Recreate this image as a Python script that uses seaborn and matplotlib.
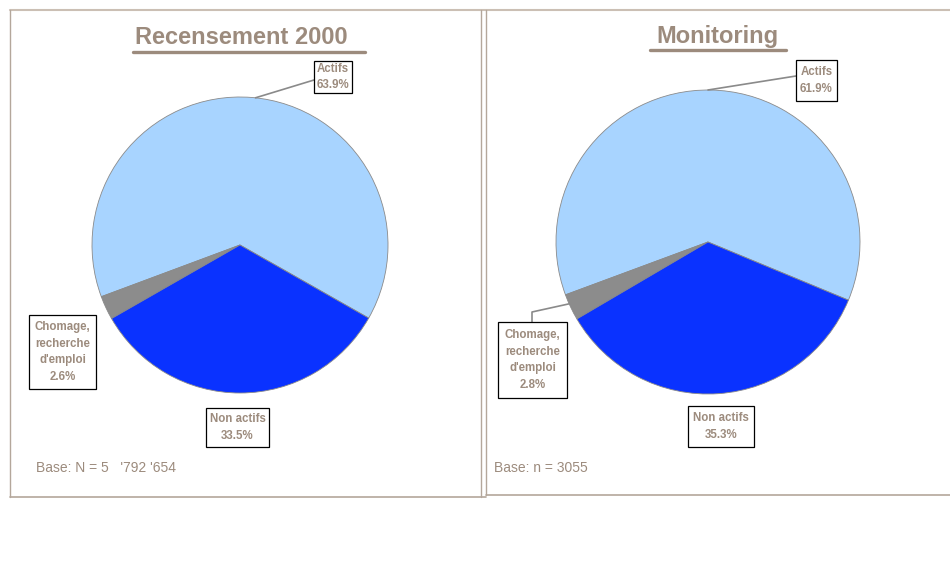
import numpy as np
import matplotlib
matplotlib.use('Agg')
import matplotlib.pyplot as plt
import seaborn as sns
from matplotlib.lines import Line2D
from matplotlib.patches import Rectangle

# data
categories = ['Actifs', 'Chomage,\nrecherche\nd\'emploi', 'Non actifs']
recensement = [63.9, 2.6, 33.5]
monitoring = [61.9, 2.8, 35.3]
titles = ['Recensement 2000', 'Monitoring']
bases = ["Base: N = 5   '792 '654", 'Base: n = 3055']
colors = ['#a8d4ff', '#8c8c8c', '#0a32ff']

sns.set_style('white')
plt.rcParams['font.family'] = ['Liberation Sans', 'DejaVu Sans']

W, H = 950, 563
TAUPE = '#9c8b7d'
BORDER = '#b4a79b'

fig = plt.figure(figsize=(9.5, 5.63), dpi=100)


def fx(px):
    return px / W


def fy(py):
    return 1 - py / H


def hline(x0, x1, y, **kw):
    fig.add_artist(Line2D([fx(x0), fx(x1)], [fy(y), fy(y)], transform=fig.transFigure, **kw))


def vline(x, y0, y1, **kw):
    fig.add_artist(Line2D([fx(x), fx(x)], [fy(y0), fy(y1)], transform=fig.transFigure, **kw))


# panel frames
hline(10, 950, 10, color='#cbbfb4', lw=1.5)
vline(10, 10, 497, color=BORDER, lw=1)
vline(481, 10, 497, color=BORDER, lw=1)
vline(486, 10, 495, color=BORDER, lw=1)
hline(10, 486, 497, color=BORDER, lw=1.2)
hline(486, 950, 495, color=BORDER, lw=1.2)

panels = [
    dict(values=recensement, cx=240, cy=245, r=148, start=-29.6,
         title_xy=(241, 38), uline=(133, 365, 52), base_xy=(36, 468),
         boxes=[(314, 61, 352, 93), (29, 315, 96, 389), (206, 408, 269, 447)],
         leaders=[[(314, 80)], None, None],
         lead_ang=[84, None, None]),
    dict(values=monitoring, cx=708, cy=242, r=152, start=-22.5,
         title_xy=(717, 36), uline=(650, 786, 50), base_xy=(494, 468),
         boxes=[(796, 60, 837, 101), (498, 322, 567, 398), (688, 406, 754, 447)],
         leaders=[[(796, 76)], [(532, 322), (532, 312)], None],
         lead_ang=[90, 204, None]),
]

for i, p in enumerate(panels):
    ax = fig.add_axes([fx(p['cx'] - p['r']), fy(p['cy'] + p['r']),
                       2 * p['r'] / W, 2 * p['r'] / H])
    ax.pie(p['values'], colors=colors, startangle=p['start'], counterclock=True,
           wedgeprops=dict(edgecolor='#8a8a8a', linewidth=0.6))
    ax.set_xlim(-1, 1)
    ax.set_ylim(-1, 1)
    ax.set_aspect('auto')
    ax.axis('off')

    # title with underline
    fig.text(fx(p['title_xy'][0]), fy(p['title_xy'][1]), titles[i], ha='center', va='center',
             fontsize=17, fontweight='bold', color=TAUPE)
    hline(p['uline'][0], p['uline'][1], p['uline'][2], color=TAUPE, lw=2.4)

    # base text
    fig.text(fx(p['base_xy'][0]), fy(p['base_xy'][1]), bases[i], ha='left', va='center',
             fontsize=10, color=TAUPE)

    # label boxes
    for j, (x0, y0, x1, y1) in enumerate(p['boxes']):
        fig.add_artist(Rectangle((fx(x0) + 0.0015, fy(y1) - 0.0025), fx(x1 - x0), (y1 - y0) / H,
                                 transform=fig.transFigure, facecolor='#555555',
                                 edgecolor='none', zorder=4))
        fig.add_artist(Rectangle((fx(x0), fy(y1)), fx(x1 - x0), (y1 - y0) / H,
                                 transform=fig.transFigure, facecolor='white',
                                 edgecolor='black', lw=0.9, zorder=5))
        label = '%s\n%.1f%%' % (categories[j], p['values'][j])
        fig.text(fx((x0 + x1) / 2), fy((y0 + y1) / 2), label, ha='center', va='center',
                 multialignment='center', fontsize=8.3, fontweight='bold', color=TAUPE,
                 linespacing=1.5, zorder=6)
        if p['leaders'][j] is not None:
            a = np.deg2rad(p['lead_ang'][j])
            ex = p['cx'] + p['r'] * np.cos(a)
            ey = p['cy'] - p['r'] * np.sin(a)
            pts = p['leaders'][j] + [(ex, ey)]
            fig.add_artist(Line2D([fx(q[0]) for q in pts], [fy(q[1]) for q in pts],
                                  transform=fig.transFigure, color='#8a8a8a', lw=1.2, zorder=3))

fig.savefig('out.png', dpi=100, facecolor='white')
